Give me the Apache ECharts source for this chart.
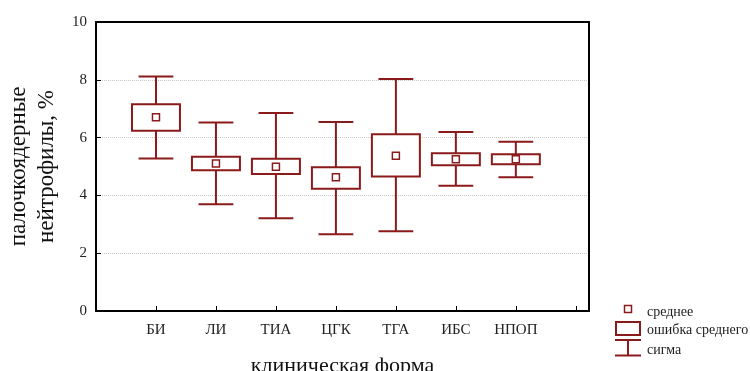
<!DOCTYPE html>
<html>
<head>
<meta charset="utf-8">
<script src="https://cdn.jsdelivr.net/npm/echarts@6/dist/echarts.min.js"></script>
<style>
  html, body { margin: 0; padding: 0; background: #fff; }
  #chart { width: 750px; height: 371px; }
</style>
</head>
<body>
<div id="chart"></div>
<script>
// клинические формы
var categories = ['БИ', 'ЛИ', 'ТИА', 'ЦГК', 'ТГА', 'ИБС', 'НПОП']
var means = [6.70, 5.10, 4.99, 4.63, 5.37, 5.25, 5.25]
var seLow = [6.24, 4.87, 4.74, 4.23, 4.65, 5.04, 5.08]
var seHigh = [7.15, 5.34, 5.27, 4.97, 6.12, 5.46, 5.42]
var sdLow = [5.28, 3.69, 3.21, 2.66, 2.76, 4.33, 4.63]
var sdHigh = [8.11, 6.52, 6.85, 6.54, 8.03, 6.19, 5.86]
var yTicks = [0, 2, 4, 6, 8, 10]

var red = '#8b1a1a'
var font = '"Liberation Serif", "DejaVu Serif", serif'

var seriesData = categories.map(function (c, i) {
  return [i + 1, means[i], seLow[i], seHigh[i], sdLow[i], sdHigh[i]]
})

function renderItem(params, api) {
  var x = api.value(0)
  var pMean = api.coord([x, api.value(1)])
  var pSeLo = api.coord([x, api.value(2)])
  var pSeHi = api.coord([x, api.value(3)])
  var pSdLo = api.coord([x, api.value(4)])
  var pSdHi = api.coord([x, api.value(5)])
  var boxHalf = api.size([0.4, 0])[0]
  var capHalf = api.size([0.29, 0])[0]
  var cx = pMean[0]
  var line = { stroke: red, lineWidth: 2 }
  return {
    type: 'group',
    children: [
      { type: 'line', shape: { x1: cx, y1: pSdHi[1], x2: cx, y2: pSdLo[1] }, style: line },
      { type: 'line', shape: { x1: cx - capHalf, y1: pSdHi[1], x2: cx + capHalf, y2: pSdHi[1] }, style: line },
      { type: 'line', shape: { x1: cx - capHalf, y1: pSdLo[1], x2: cx + capHalf, y2: pSdLo[1] }, style: line },
      {
        type: 'rect',
        shape: { x: cx - boxHalf, y: pSeHi[1], width: boxHalf * 2, height: pSeLo[1] - pSeHi[1] },
        style: { fill: '#fff', stroke: red, lineWidth: 2 }
      },
      {
        type: 'rect',
        shape: { x: cx - 3.5, y: pMean[1] - 3.5, width: 7, height: 7 },
        style: { fill: '#fff', stroke: red, lineWidth: 1.5 }
      }
    ]
  }
}

// верхняя и правая рамка
var frameAxis = {
  type: 'value',
  axisLine: { show: true, onZero: false, lineStyle: { color: '#000', width: 2 } },
  axisTick: { show: false },
  axisLabel: { show: false },
  splitLine: { show: false }
}

var myChart = echarts.init(document.getElementById('chart'))
var options = {
  backgroundColor: '#fff',
  animation: false,
  textStyle: { fontFamily: font },
  grid: {
    left: 96, right: 161, top: 22, bottom: 60,
    containLabel: false,
    outerBoundsMode: 'none'
  },
  xAxis: [
    {
      type: 'value',
      min: 0,
      max: 8.22,
      interval: 1,
      name: 'клиническая форма',
      nameLocation: 'middle',
      nameGap: 44,
      nameTextStyle: { fontFamily: font, fontSize: 22, color: '#111' },
      axisLine: { show: true, onZero: false, lineStyle: { color: '#000', width: 2 } },
      axisTick: { show: true, inside: true, length: 5, lineStyle: { color: '#000', width: 1 } },
      splitLine: { show: false },
      axisLabel: {
        showMaxLabel: false,
        margin: 12,
        fontFamily: font,
        fontSize: 15,
        color: '#222',
        formatter: function (v) { return categories[v - 1] || '' }
      }
    },
    Object.assign({ position: 'top', min: 0, max: 8.22 }, frameAxis)
  ],
  yAxis: [
    {
      type: 'value',
      min: yTicks[0],
      max: yTicks[yTicks.length - 1],
      interval: 2,
      name: 'палочкоядерные\nнейтрофилы, %',
      nameLocation: 'middle',
      nameRotate: 90,
      nameGap: 34,
      nameTextStyle: { fontFamily: font, fontSize: 23, color: '#111', lineHeight: 28 },
      axisLine: { show: true, onZero: false, lineStyle: { color: '#000', width: 2 } },
      axisTick: { show: true, inside: true, length: 5, lineStyle: { color: '#000', width: 1 } },
      splitLine: {
        show: true,
        lineStyle: { color: '#c8c8c8', type: 'dotted', width: 1 }
      },
      axisLabel: { margin: 9, fontFamily: font, fontSize: 15, color: '#222' }
    },
    Object.assign({ position: 'right', min: 0, max: 10 }, frameAxis)
  ],
  series: [
    {
      type: 'custom',
      renderItem: renderItem,
      encode: { x: 0, y: [2, 3, 4, 5] },
      data: seriesData,
      clip: false,
      z: 3
    }
  ],
  graphic: [
    { type: 'rect', shape: { x: 624.5, y: 305.5, width: 7, height: 7 }, style: { fill: '#fff', stroke: red, lineWidth: 1.5 } },
    { type: 'text', x: 647, y: 312, style: { text: 'среднее', font: '14px ' + font, fill: '#222', textVerticalAlign: 'middle' } },
    { type: 'rect', shape: { x: 616, y: 322, width: 24, height: 13 }, style: { fill: '#fff', stroke: red, lineWidth: 2 } },
    { type: 'text', x: 647, y: 330, style: { text: 'ошибка среднего', font: '14px ' + font, fill: '#222', textVerticalAlign: 'middle' } },
    { type: 'line', shape: { x1: 615, y1: 340, x2: 641, y2: 340 }, style: { stroke: red, lineWidth: 2 } },
    { type: 'line', shape: { x1: 628, y1: 340, x2: 628, y2: 355.5 }, style: { stroke: red, lineWidth: 2 } },
    { type: 'line', shape: { x1: 615, y1: 355.5, x2: 641, y2: 355.5 }, style: { stroke: red, lineWidth: 2 } },
    { type: 'text', x: 647, y: 350, style: { text: 'сигма', font: '14px ' + font, fill: '#222', textVerticalAlign: 'middle' } }
  ]
}
myChart.setOption(options)
</script>
</body>
</html>
